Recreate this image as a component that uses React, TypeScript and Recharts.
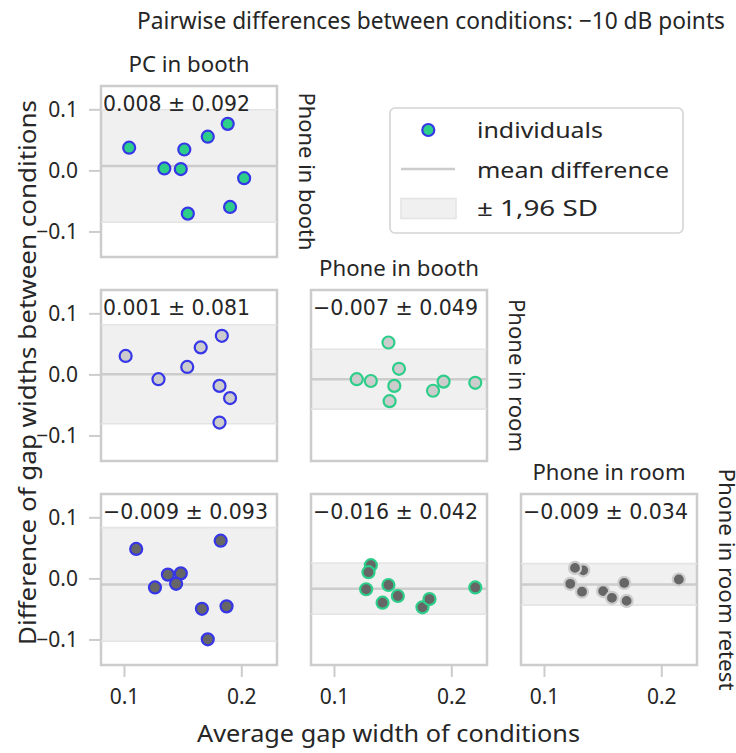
import React from 'react';
import { ScatterChart, Scatter, XAxis, YAxis, ReferenceArea, ReferenceLine } from 'recharts';

// ---------- data ----------
const conditions = ['PC in booth', 'Phone in booth', 'Phone in room', 'Phone in room retest'];
const conditionColors = ['#3636e8', '#2dce8a', '#cccccc', '#666666'];

const xTicks = [0.1, 0.2];
const yTicks = [-0.1, 0.0, 0.1];
const xDomain = [0.08, 0.23];
const yDomain = [-0.141, 0.139];

// PC in booth vs Phone in booth
const pcBoothVsPhoneBoothAvg = [0.104, 0.151, 0.171, 0.188, 0.134, 0.148, 0.202, 0.154, 0.19];
const pcBoothVsPhoneBoothDiff = [0.038, 0.035, 0.056, 0.077, 0.004, 0.003, -0.012, -0.07, -0.059];
// PC in booth vs Phone in room
const pcBoothVsPhoneRoomAvg = [0.101, 0.129, 0.1535, 0.165, 0.183, 0.181, 0.19, 0.181];
const pcBoothVsPhoneRoomDiff = [0.031, -0.007, 0.013, 0.045, 0.064, -0.018, -0.038, -0.078];
// Phone in booth vs Phone in room
const phoneBoothVsPhoneRoomAvg = [0.119, 0.131, 0.146, 0.155, 0.151, 0.147, 0.184, 0.193, 0.22];
const phoneBoothVsPhoneRoomDiff = [-0.007, -0.01, 0.053, 0.01, -0.018, -0.043, -0.026, -0.011, -0.013];
// PC in booth vs Phone in room retest
const pcBoothVsRetestAvg = [0.11, 0.182, 0.137, 0.148, 0.126, 0.166, 0.187, 0.171, 0.144];
const pcBoothVsRetestDiff = [0.049, 0.0625, 0.007, 0.009, -0.014, -0.049, -0.045, -0.099, -0.008];
// Phone in booth vs Phone in room retest
const phoneBoothVsRetestAvg = [0.131, 0.129, 0.127, 0.146, 0.154, 0.141, 0.175, 0.181, 0.22];
const phoneBoothVsRetestDiff = [0.0225, 0.011, -0.017, -0.01, -0.028, -0.039, -0.0465, -0.033, -0.014];
// Phone in room vs Phone in room retest
const phoneRoomVsRetestAvg = [0.133, 0.126, 0.122, 0.132, 0.15, 0.1575, 0.168, 0.17, 0.2145];
const phoneRoomVsRetestDiff = [0.014, 0.018, -0.008, -0.021, -0.02, -0.031, -0.0066, -0.036, -0.001];

const meanDiffs = [0.008, 0.001, -0.007, -0.009, -0.016, -0.009];
const limits196 = [0.092, 0.081, 0.049, 0.093, 0.042, 0.034];

const panelRows = [0, 1, 1, 2, 2, 2];
const panelCols = [0, 0, 1, 0, 1, 2];
const panelAvgs = [pcBoothVsPhoneBoothAvg, pcBoothVsPhoneRoomAvg, phoneBoothVsPhoneRoomAvg, pcBoothVsRetestAvg, phoneBoothVsRetestAvg, phoneRoomVsRetestAvg];
const panelDiffs = [pcBoothVsPhoneBoothDiff, pcBoothVsPhoneRoomDiff, phoneBoothVsPhoneRoomDiff, pcBoothVsRetestDiff, phoneBoothVsRetestDiff, phoneRoomVsRetestDiff];

// ---------- layout ----------
const colLeft = [101, 311, 521];
const rowTop = [86, 290, 494];
const PLOT_W = 176;
const PLOT_H = 171;
const Y_AXIS_W = 70;
const X_AXIS_H = 50;
const M_TOP = 4;
const M_RIGHT = 4;

const TEXT = '#262626';
const LABEL_FONT = "'Noto Sans', sans-serif";
const NUM_FONT = "'DejaVu Sans', sans-serif";

const fmtTick = (v: number) => {
  const s = Math.abs(v).toFixed(1);
  return v < -1e-9 ? '\u2212' + s : s;
};
const fmt3 = (v: number) => {
  const s = Math.abs(v).toFixed(3);
  return v < 0 ? '\u2212' + s : s;
};

function Panel({ idx }: { idx: number }) {
  const row = panelRows[idx];
  const col = panelCols[idx];
  const data = panelAvgs[idx].map((x, i) => ({ x, y: panelDiffs[idx][i] }));
  const mean = meanDiffs[idx];
  const sd = limits196[idx];
  const edge = conditionColors[col];
  const face = conditionColors[row + 1];
  const showY = col === 0;
  const showX = row === 2;
  return (
    <div style={{ position: 'absolute', left: colLeft[col] - Y_AXIS_W, top: rowTop[row] - M_TOP }}>
      <ScatterChart
        width={Y_AXIS_W + PLOT_W + M_RIGHT}
        height={M_TOP + PLOT_H + X_AXIS_H}
        margin={{ top: M_TOP, right: M_RIGHT, bottom: 0, left: 0 }}
      >
        <XAxis
          type="number"
          dataKey="x"
          domain={xDomain}
          allowDataOverflow
          ticks={xTicks}
          height={X_AXIS_H}
          axisLine={false}
          tickLine={{ stroke: '#cccccc', strokeWidth: 2 }}
          tickSize={12}
          tickMargin={12}
          tick={showX ? { fontSize: 21, fill: TEXT, fontFamily: LABEL_FONT } : false}
          tickFormatter={fmtTick}
        />
        <YAxis
          type="number"
          dataKey="y"
          domain={yDomain}
          allowDataOverflow
          ticks={yTicks}
          width={Y_AXIS_W}
          axisLine={false}
          tickLine={{ stroke: '#cccccc', strokeWidth: 2 }}
          tickSize={12}
          tickMargin={11}
          tick={showY ? { fontSize: 21, fill: TEXT, fontFamily: LABEL_FONT } : false}
          tickFormatter={fmtTick}
        />
        <ReferenceArea
          x1={xDomain[0]}
          x2={xDomain[1]}
          y1={mean - sd}
          y2={mean + sd}
          fill="#f0f0f0"
          fillOpacity={1}
          stroke="none"
        />
        <ReferenceLine y={mean + sd} stroke="#e4e4e4" strokeWidth={1.6} />
        <ReferenceLine y={mean - sd} stroke="#e4e4e4" strokeWidth={1.6} />
        <ReferenceLine y={mean} stroke="#cccccc" strokeWidth={2.5} />
        <ReferenceArea
          x1={xDomain[0]}
          x2={xDomain[1]}
          y1={yDomain[0]}
          y2={yDomain[1]}
          fill="none"
          fillOpacity={0}
          stroke="#cccccc"
          strokeWidth={2.5}
        />
        <Scatter
          data={data}
          isAnimationActive={false}
          shape={(p: any) => (
            <circle cx={p.cx} cy={p.cy} r={6} fill={face} stroke={edge} strokeWidth={2.2} />
          )}
        />
      </ScatterChart>
    </div>
  );
}

function Overlay() {
  const annotations = meanDiffs.map((m, i) => {
    const txt = `${fmt3(m)} \u00b1 ${limits196[i].toFixed(3)}`;
    const neg = m < 0;
    return (
      <text
        key={'a' + i}
        x={colLeft[panelCols[i]] + 2}
        y={rowTop[panelRows[i]] + 24.5}
        fontSize={22}
        fontFamily={NUM_FONT}
        fill={TEXT}
        textLength={neg ? 165 : 147}
        lengthAdjust="spacingAndGlyphs"
      >
        {txt}
      </text>
    );
  });
  const colTitleLen = [121, 160, 153];
  const rowLabelLen = [158, 153, 222];
  return (
    <svg
      width={736}
      height={753}
      style={{ position: 'absolute', left: 0, top: 0, pointerEvents: 'none' }}
    >
      <text
        x={431}
        y={29}
        textAnchor="middle"
        fontSize={23}
        fontFamily={LABEL_FONT}
        fill={TEXT}
        textLength={588}
        lengthAdjust="spacingAndGlyphs"
      >
        {'Pairwise differences between conditions: \u221210 dB points'}
      </text>
      {[0, 1, 2].map((c) => (
        <text
          key={'ct' + c}
          x={colLeft[c] + PLOT_W / 2}
          y={rowTop[c] - 14}
          textAnchor="middle"
          fontSize={22}
          fontFamily={LABEL_FONT}
          fill={TEXT}
          textLength={colTitleLen[c]}
          lengthAdjust="spacingAndGlyphs"
        >
          {conditions[c]}
        </text>
      ))}
      {[0, 1, 2].map((r) => (
        <text
          key={'rl' + r}
          transform={`translate(${colLeft[r] + PLOT_W + 21.5},${rowTop[r] + PLOT_H / 2}) rotate(90)`}
          textAnchor="middle"
          fontSize={22}
          fontFamily={LABEL_FONT}
          fill={TEXT}
          textLength={rowLabelLen[r]}
          lengthAdjust="spacingAndGlyphs"
        >
          {conditions[r + 1]}
        </text>
      ))}
      <text
        transform="translate(36,372.5) rotate(-90)"
        textAnchor="middle"
        fontSize={23}
        fontFamily={LABEL_FONT}
        fill={TEXT}
        textLength={545}
        lengthAdjust="spacingAndGlyphs"
      >
        Difference of gap widths between conditions
      </text>
      <text
        x={388.5}
        y={742}
        textAnchor="middle"
        fontSize={23}
        fontFamily={LABEL_FONT}
        fill={TEXT}
        textLength={383}
        lengthAdjust="spacingAndGlyphs"
      >
        Average gap width of conditions
      </text>
      {annotations}
      {/* legend */}
      <rect x={390} y={108} width={293} height={125} rx={5} fill="#ffffff" stroke="#d4d4d4" strokeWidth={1.6} />
      <circle cx={428.3} cy={130} r={6} fill={conditionColors[1]} stroke={conditionColors[0]} strokeWidth={2.2} />
      <line x1={401} y1={169} x2={455} y2={169} stroke="#cccccc" strokeWidth={2.5} />
      <rect x={401} y={198.5} width={55} height={20} fill="#f0f0f0" stroke="#e4e4e4" strokeWidth={1.6} />
      <text x={477} y={138.3} fontSize={22} fontFamily={LABEL_FONT} fill={TEXT} textLength={126} lengthAdjust="spacingAndGlyphs">
        individuals
      </text>
      <text x={477} y={177.5} fontSize={22} fontFamily={LABEL_FONT} fill={TEXT} textLength={192} lengthAdjust="spacingAndGlyphs">
        mean difference
      </text>
      <text x={477} y={215.7} fontSize={22} fontFamily={LABEL_FONT} fill={TEXT} textLength={121} lengthAdjust="spacingAndGlyphs">
        {'\u00b1 1,96 SD'}
      </text>
    </svg>
  );
}

export default function App() {
  return (
    <div style={{ position: 'absolute', left: 0, top: 0, width: 736, height: 753, background: '#ffffff', overflow: 'hidden' }}>
      {[0, 1, 2, 3, 4, 5].map((i) => (
        <Panel key={i} idx={i} />
      ))}
      <Overlay />
    </div>
  );
}
